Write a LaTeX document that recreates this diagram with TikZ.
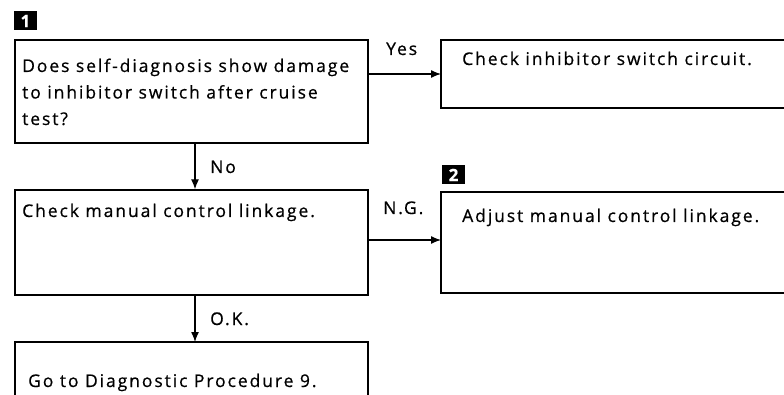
\documentclass[tikz,border=0pt]{standalone}
\usepackage{fontspec}
\setmainfont{Open Sans}[LetterSpace=11,FakeBold=0.6]
\usetikzlibrary{arrows.meta}
\begin{document}
\begin{tikzpicture}[x=1pt,y=-1pt,
  line/.style={line width=1.3pt},
  arr/.style={line width=1.3pt,-{Latex[length=10pt,width=8pt]}},
  txt/.style={inner sep=0pt,anchor=base west,align=left,font=\fontsize{17.5}{26.5}\selectfont},
  lbl/.style={inner sep=0pt,anchor=base west,font=\fontsize{17.5}{20}\selectfont},
  tag/.style={fill=black,text=white,inner sep=0pt,minimum width=23pt,minimum height=19pt,font=\bfseries\fontsize{17}{17}\selectfont}]
\useasboundingbox (0,0) rectangle (784,395);
% tags
\node[tag] (t1) at (25.5,21) {1};
\node[tag] (t2) at (453.5,175) {2};
% box 1 (question)
\node[draw,line,minimum width=0pt,inner sep=0pt] (q1) at (191.5,91.5) {\rule{0pt}{103pt}\rule{353pt}{0pt}};
\node[txt] (q1t) at (22,125) {Does self-diagnosis show damage\\to inhibitor switch after cruise\\test?};
% box: check inhibitor switch circuit (open on the right)
\coordinate (c1nw) at (441,40);
\coordinate (c1sw) at (441,108);
\draw[line] (784,40) -- (c1nw) -- (c1sw) -- (784,108);
\node[txt] (c1t) at (462,65) {Check inhibitor switch circuit.};
% box 2
\node[draw,line,inner sep=0pt] (q2) at (191.5,242.5) {\rule{0pt}{105pt}\rule{353pt}{0pt}};
\node[txt] (q2t) at (22,217) {Check manual control linkage.};
% box: adjust (open on the right)
\coordinate (a1nw) at (441,192);
\coordinate (a1sw) at (441,293);
\draw[line] (784,192) -- (a1nw) -- (a1sw) -- (784,293);
\node[txt] (a1t) at (462,222) {Adjust manual control linkage.};
% box 3 (open at the bottom)
\coordinate (g1nw) at (15,342);
\coordinate (g1ne) at (368,342);
\draw[line] (15,395) -- (g1nw) -- (g1ne) -- (368,395);
\node[txt] (g1t) at (28,387) {Go to Diagnostic Procedure 9.};
% connectors
\coordinate (yesS) at (368,74);
\coordinate (yesE) at (441,74);
\draw[arr] (yesS) -- (yesE);
\node[lbl] (yes) at (386,55) {Yes};
\draw[arr] (q1.south -| 195,0) -- (q2.north -| 195,0);
\node[lbl] (no) at (210,173) {No};
\coordinate (ngS) at (368,240);
\coordinate (ngE) at (441,240);
\draw[arr] (ngS) -- (ngE);
\node[lbl] (ng) at (383,214) {N.G.};
\coordinate (okE) at (195,342);
\draw[arr] (q2.south -| 195,0) -- (okE);
\node[lbl] (ok) at (210,325) {O.K.};
\end{tikzpicture}
\end{document}
